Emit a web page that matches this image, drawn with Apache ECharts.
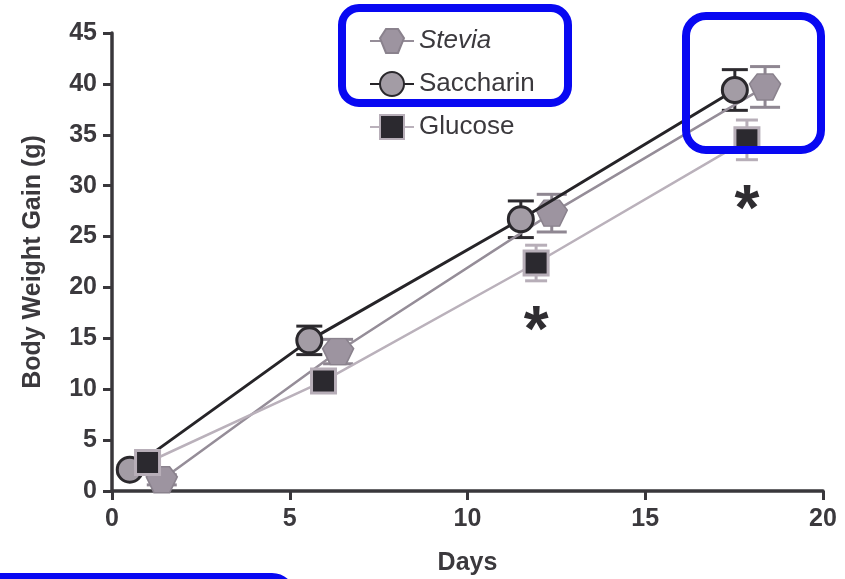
<!DOCTYPE html>
<html><head><meta charset="utf-8">
<script src="https://cdn.jsdelivr.net/npm/echarts@6/dist/echarts.min.js"></script>
<style>html,body{margin:0;padding:0;background:#fff}#c{width:845px;height:579px}</style>
</head><body><div id="c"></div>
<script>
// ---- data ----
const xTicks = [0, 5, 10, 15, 20];
const yTicks = [0, 5, 10, 15, 20, 25, 30, 35, 40, 45];
const seriesNames = ['Stevia', 'Saccharin', 'Glucose'];
const steviaDays = [1.4, 6.36, 12.37, 18.37];
const steviaMean = [1.1, 13.7, 27.3, 39.7];
const steviaSem = [0.5, 1.2, 1.85, 2.0];
const saccharinDays = [0.5, 5.55, 11.5, 17.52];
const saccharinMean = [2.1, 14.8, 26.7, 39.4];
const saccharinSem = [0.4, 1.4, 1.8, 2.0];
const glucoseDays = [1.0, 5.95, 11.93, 17.86];
const glucoseMean = [2.8, 10.8, 22.4, 34.5];
const glucoseSem = [0.6, 1.0, 1.75, 1.95];
const asteriskDays = [11.93, 17.86];
const asteriskY = [16.9, 28.8];

// ---- styles ----
const FONT = '"Liberation Sans", Arial, sans-serif';
const TXT = '#3b393d';
const BLUE = '#0808f2';
const stevPath = 'path://M0,5 L4,0 L12,0 L16,5 L12,13 L4,13 Z';

function pts(days, vals) { return days.map((d, i) => [d, vals[i]]); }
function errData(days, vals, sem) { return days.map((d, i) => [d, vals[i] - sem[i], vals[i] + sem[i]]); }
function errSeries(name, data, color, capW, z) {
  return {
    type: 'custom', name: name, data: data, z: z, silent: true,
    renderItem: function (params, api) {
      const top = api.coord([api.value(0), api.value(2)]);
      const bot = api.coord([api.value(0), api.value(1)]);
      const st = { stroke: color, lineWidth: 3 };
      return { type: 'group', children: [
        { type: 'line', shape: { x1: top[0], y1: top[1], x2: bot[0], y2: bot[1] }, style: st },
        { type: 'line', shape: { x1: top[0] - capW / 2, y1: top[1], x2: top[0] + capW / 2, y2: top[1] }, style: st },
        { type: 'line', shape: { x1: bot[0] - capW / 2, y1: bot[1], x2: bot[0] + capW / 2, y2: bot[1] }, style: st }
      ]};
    }
  };
}

const chart = echarts.init(document.getElementById('c'), null, { renderer: 'canvas' });
const option = {
  animation: false,
  backgroundColor: '#fff',
  grid: { left: 112, right: 22, top: 33, bottom: 88, containLabel: false, outerBoundsMode: 'none' },
  legend: {
    data: seriesNames, orient: 'vertical', left: 364, top: 23,
    itemWidth: 44, itemHeight: 30, itemGap: 17,
    textStyle: { fontFamily: FONT, fontSize: 26, color: TXT },
    formatter: function (n) { return n === 'Stevia' ? '{i|' + n + '}' : n; },
  },
  xAxis: {
    type: 'value', min: 0, max: 20, interval: 5,
    name: 'Days', nameLocation: 'middle', nameGap: 60,
    nameTextStyle: { fontFamily: FONT, fontSize: 25, fontWeight: 'bold', color: TXT },
    axisLine: { lineStyle: { color: '#39373b', width: 3.5 } },
    axisTick: { show: true, inside: false, length: 9, lineStyle: { width: 3, color: '#39373b' } },
    axisLabel: { fontFamily: FONT, fontSize: 25, fontWeight: 'bold', color: TXT, margin: 16,
      formatter: v => xTicks.includes(v) ? String(v) : '' },
    splitLine: { show: false }
  },
  yAxis: {
    type: 'value', min: 0, max: 45, interval: 5,
    name: 'Body Weight Gain (g)', nameLocation: 'middle', nameGap: 66,
    nameTextStyle: { fontFamily: FONT, fontSize: 25, fontWeight: 'bold', color: TXT },
    axisLine: { show: true, lineStyle: { color: '#39373b', width: 3.5 } },
    axisTick: { show: true, inside: false, length: 9, lineStyle: { width: 3, color: '#39373b' } },
    axisLabel: { fontFamily: FONT, fontSize: 25, fontWeight: 'bold', color: TXT, margin: 15,
      formatter: v => yTicks.includes(v) ? String(v) : '' },
    splitLine: { show: false }
  },
  series: [
    errSeries('Stevia-err', errData(steviaDays, steviaMean, steviaSem), '#8f8792', 30, 1),
    errSeries('Saccharin-err', errData(saccharinDays, saccharinMean, saccharinSem), '#2d2b2f', 26, 1),
    errSeries('Glucose-err', errData(glucoseDays, glucoseMean, glucoseSem), '#b7aeb8', 22, 1),
    {
      name: 'Stevia', type: 'line', data: pts(steviaDays, steviaMean), z: 3,
      symbol: stevPath, symbolSize: [31, 26], symbolKeepAspect: false,
      lineStyle: { color: '#958d98', width: 2.5 },
      itemStyle: { color: '#9d94a0', borderColor: '#8a828d', borderWidth: 1.5 }
    },
    {
      name: 'Saccharin', type: 'line', data: pts(saccharinDays, saccharinMean), z: 4,
      symbol: 'circle', symbolSize: 25,
      lineStyle: { color: '#262428', width: 3 },
      itemStyle: { color: '#a39ca5', borderColor: '#2a282c', borderWidth: 3 }
    },
    {
      name: 'Glucose', type: 'line', data: pts(glucoseDays, glucoseMean), z: 5,
      symbol: 'rect', symbolSize: 24,
      lineStyle: { color: '#bab1bb', width: 2.5 },
      itemStyle: { color: '#2b292f', borderColor: '#b7aeb8', borderWidth: 3 }
    },
    {
      name: 'asterisks', type: 'custom', z: 6, silent: true,
      data: asteriskDays.map((d, i) => [d, asteriskY[i]]),
      renderItem: function (params, api) {
        const p = api.coord([api.value(0), api.value(1)]);
        return { type: 'text', x: p[0], y: p[1] + 14,
          style: { text: '*', fontFamily: FONT, fontSize: 64, fontWeight: 'bold', fill: '#2f2d31',
            align: 'center', verticalAlign: 'middle' } };
      }
    }
  ],
  graphic: [
    { type: 'rect', z: 100, shape: { x: 342, y: 8, width: 226, height: 95, r: 17 },
      style: { fill: 'none', stroke: BLUE, lineWidth: 8 } },
    { type: 'rect', z: 100, shape: { x: 686, y: 16, width: 135, height: 134, r: 20 },
      style: { fill: 'none', stroke: BLUE, lineWidth: 8 } },
    { type: 'rect', z: 100, shape: { x: -30, y: 577, width: 322, height: 60, r: 20 },
      style: { fill: 'none', stroke: BLUE, lineWidth: 8 } }
  ]
};
option.legend.textStyle.rich = { i: { fontFamily: FONT, fontSize: 26, fontStyle: 'italic', color: TXT } };
chart.setOption(option);
</script>
</body></html>
